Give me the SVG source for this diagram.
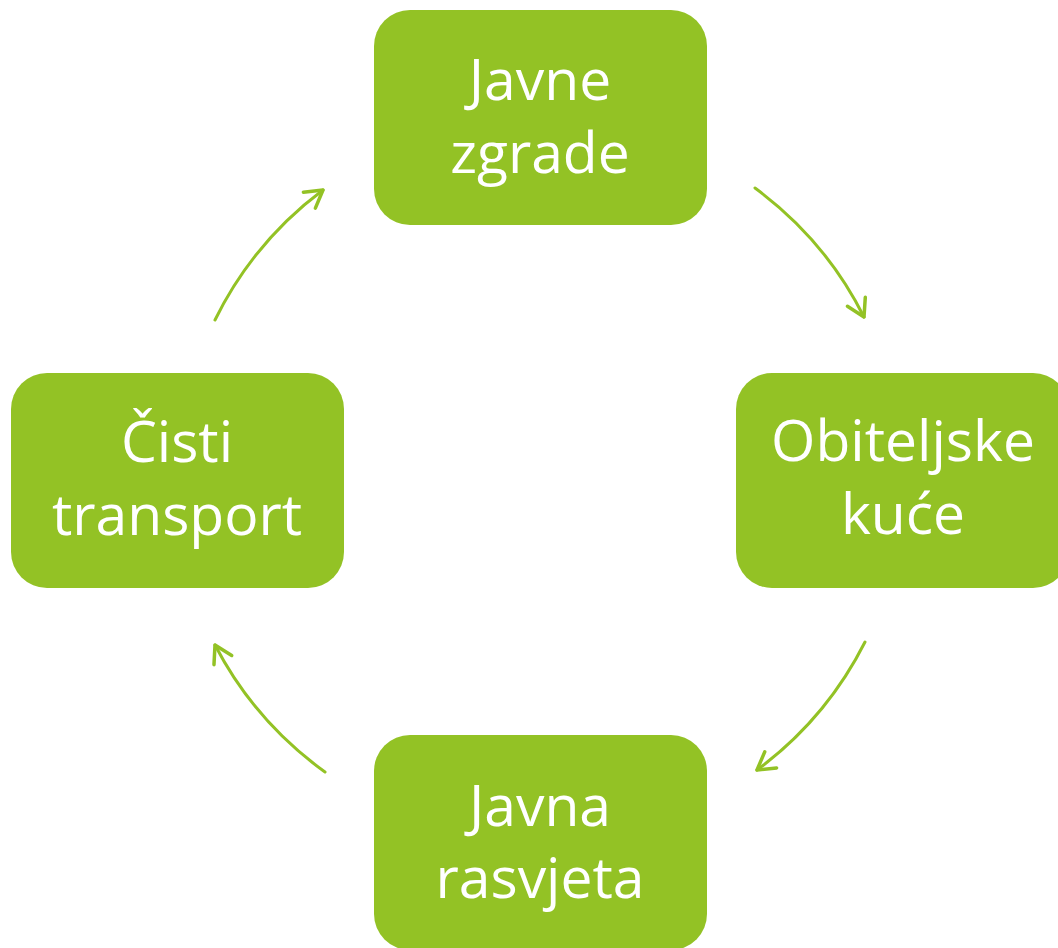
<svg xmlns="http://www.w3.org/2000/svg" width="1058" height="948" viewBox="0 0 1058 948">
<style>
.box{fill:#93C225;}
.lbl{font-family:"Open Sans","Liberation Sans",sans-serif;font-size:57px;fill:#FFFFFF;text-anchor:middle;}
.arc{fill:none;stroke:#93C225;stroke-width:3;stroke-linecap:round;}
</style>
<defs>
<marker id="ah" markerUnits="userSpaceOnUse" markerWidth="40" markerHeight="40" refX="0" refY="0" viewBox="-20 -20 40 40" orient="auto" overflow="visible">
<path d="M-17,-10 L0,0 L-17,10" fill="none" stroke="#93C225" stroke-width="3.5" stroke-linecap="round" stroke-linejoin="round"/>
</marker>
</defs>
<rect width="1058" height="948" fill="#FFFFFF"/>
<g id="connectors">
<path class="arc" d="M755,188 A362,362 0 0,1 864,317" marker-end="url(#ah)"/>
<path class="arc" d="M865,642 A362,362 0 0,1 757,770" marker-end="url(#ah)"/>
<path class="arc" d="M325,772 A362,362 0 0,1 215,645" marker-end="url(#ah)"/>
<path class="arc" d="M215,320 A362,362 0 0,1 323,190" marker-end="url(#ah)"/>
</g>
<g id="node-javne-zgrade">
<rect class="box" x="374" y="10" width="333" height="215" rx="36" ry="36"/>
<text class="lbl" x="540" y="100">Javne</text>
<text class="lbl" x="540" y="173">zgrade</text>
</g>
<g id="node-obiteljske-kuce">
<rect class="box" x="736" y="373" width="333" height="215" rx="36" ry="36"/>
<text class="lbl" x="903" y="461">Obiteljske</text>
<text class="lbl" x="903" y="534">kuće</text>
</g>
<g id="node-javna-rasvjeta">
<rect class="box" x="374" y="735" width="333" height="215" rx="36" ry="36"/>
<text class="lbl" x="540" y="826">Javna</text>
<text class="lbl" x="540" y="898">rasvjeta</text>
</g>
<g id="node-cisti-transport">
<rect class="box" x="11" y="373" width="333" height="215" rx="36" ry="36"/>
<text class="lbl" x="177" y="462">Čisti</text>
<text class="lbl" x="177" y="535">transport</text>
</g>
</svg>
